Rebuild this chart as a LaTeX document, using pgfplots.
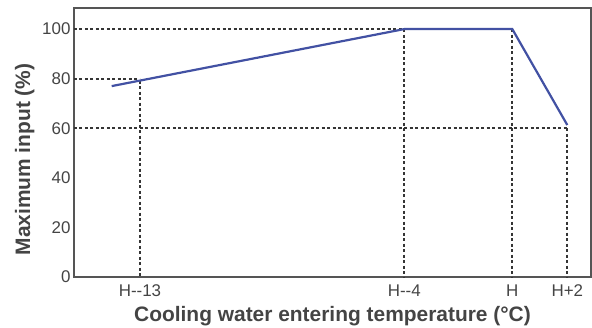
\documentclass[border=0pt]{standalone}
\usepackage{fontspec}
\setmainfont{Liberation Sans}
\usepackage{pgfplots}
\pgfplotsset{compat=1.18}
\definecolor{lineblue}{HTML}{4251A3}
\definecolor{dotgray}{HTML}{353535}
\definecolor{axgray}{HTML}{555555}
\definecolor{txtgray}{HTML}{444444}
\begin{document}
\begin{tikzpicture}
\begin{axis}[
  name=ax,
  scale only axis,
  width=517bp, height=269bp,
  xmin=0, xmax=517,
  ymin=0, ymax=108.5,
  axis line style={draw=axgray, line width=2.4bp},
  xtick={66,330.3,438.3,493.3},
  xticklabels={H{-}{-}13,H{-}{-}4,H,H+2},
  ytick={0,20,40,60,80,100},
  major tick length=0pt,
  tick style={draw=none},
  ticklabel style={font=\fontsize{17}{19}\selectfont, text=txtgray},
  xticklabel style={yshift=-4bp},
  /pgf/number format/assume math mode=true,
  xlabel={\textbf{Cooling water entering temperature (°C)}},
  ylabel={\textbf{Maximum input (\%)}},
  label style={font=\fontsize{21}{24}\selectfont, text=txtgray},
  xlabel style={yshift=-3bp},
  ylabel style={yshift=1bp, xshift=-17bp},
  clip=false,
]
\pgfplotsset{dotstyle/.style={draw=dotgray, line width=2.2bp, dash pattern=on 3bp off 2.5bp}}
\addplot[dotstyle] coordinates {(0,100) (330.3,100)};
\addplot[dotstyle] coordinates {(0,80) (66,80)};
\addplot[dotstyle] coordinates {(0,60) (493.3,60)};
\addplot[dotstyle] coordinates {(66,79.2) (66,0)};
\addplot[dotstyle] coordinates {(330.3,100) (330.3,0)};
\addplot[dotstyle] coordinates {(438.3,100) (438.3,0)};
\addplot[dotstyle] coordinates {(493.3,60) (493.3,0)};
\addplot[lineblue, line width=2.2bp] coordinates {(37.7,77) (330.3,100) (438.3,100) (493.3,61.3)};
\end{axis}
\pgfresetboundingbox
\path[use as bounding box] ([shift={(-74bp,-51bp)}]ax.south west) rectangle ([shift={(1bp,8bp)}]ax.north east);
\end{tikzpicture}
\end{document}
